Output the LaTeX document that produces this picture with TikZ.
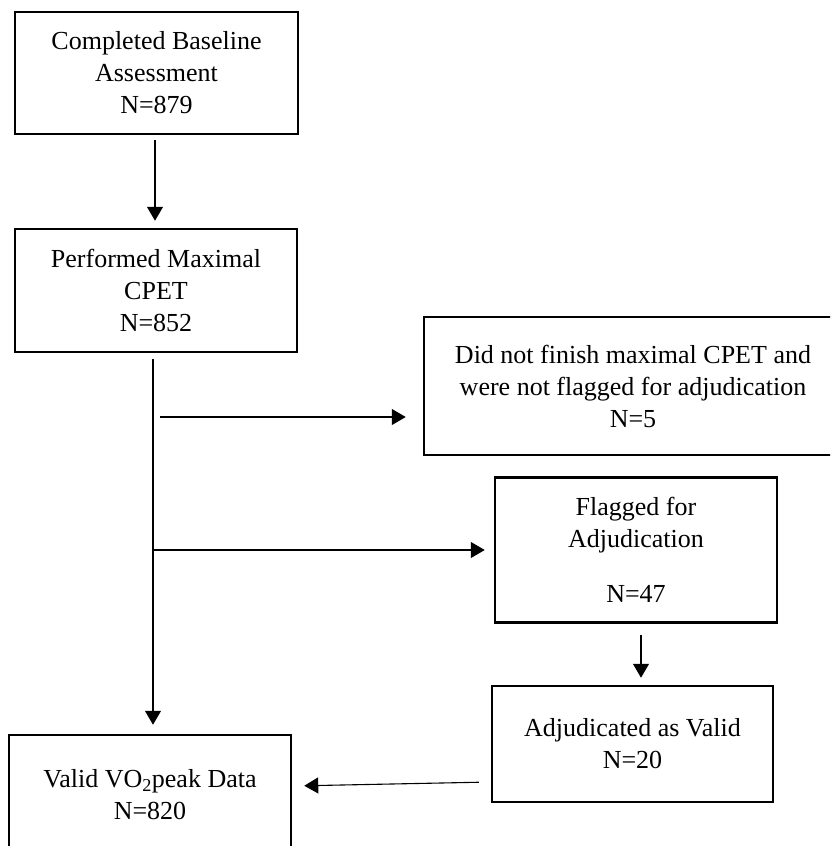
\documentclass[tikz,border=0pt]{standalone}
\usepackage{fontspec}
\setmainfont{Liberation Serif}
\usetikzlibrary{arrows.meta}
\begin{document}
\begin{tikzpicture}[x=1pt,y=-1pt,
  flowbox/.style={draw=black, line width=2.5pt, rectangle, inner sep=0pt, align=center,
    font=\fontsize{26}{32}\selectfont},
  conn/.style={line width=1.1pt, draw=black},
  arr/.style={conn, -{Triangle[length=14pt,width=16pt]}}]
\useasboundingbox (0,0) rectangle (830,846);
\fill[white] (0,0) rectangle (830,846);
\clip (0,0) rectangle (830,846);

\node[flowbox, minimum width=283pt, minimum height=122pt] (b1) at (156.5,73)
  {Completed Baseline\\Assessment\\N=879};
\node[flowbox, minimum width=282pt, minimum height=123pt] (b2) at (156,290.5)
  {Performed Maximal\\CPET\\N=852};
\node[flowbox, minimum width=418pt, minimum height=138pt] (b3) at (633,386)
  {Did not finish maximal CPET and\\were not flagged for adjudication\\N=5};
\node[flowbox, minimum width=282pt, minimum height=145pt] (b4) at (636,550)
  {Flagged for\\Adjudication\\[23pt]N=47};
\node[flowbox, minimum width=281pt, minimum height=116pt] (b5) at (632.5,744)
  {Adjudicated as Valid\\N=20};
\node[flowbox, minimum width=282pt, minimum height=120pt] (b6) at (150,795)
  {Valid VO\textsubscript{2}peak Data\\N=820};

% helper coordinates for connector positions
\coordinate (trunk) at (153,0);
\coordinate (s3) at (160,417);
\coordinate (s4) at (153,550);
\coordinate (c45) at (641,0);
\coordinate (e5) at (480,782);
\coordinate (e6) at (303,786);

\draw[arr, shorten <=5pt, shorten >=7pt] (b1.south -| 155,0) -- (b2.north -| 155,0);
\draw[arr, shorten <=6pt, shorten >=9pt] (b2.south -| trunk) -- (b6.north -| trunk);
\draw[arr, shorten >=17pt] (s3) -- (s3 -| b3.west);
\draw[arr, shorten >=9pt] (s4) -- (s4 -| b4.west);
\draw[arr, shorten <=11pt, shorten >=7pt] (b4.south -| c45) -- (b5.north -| c45);
\draw[arr, shorten <=12pt, shorten >=12pt] (b5.west |- e5) -- (b6.east |- e6);
\end{tikzpicture}
\end{document}
